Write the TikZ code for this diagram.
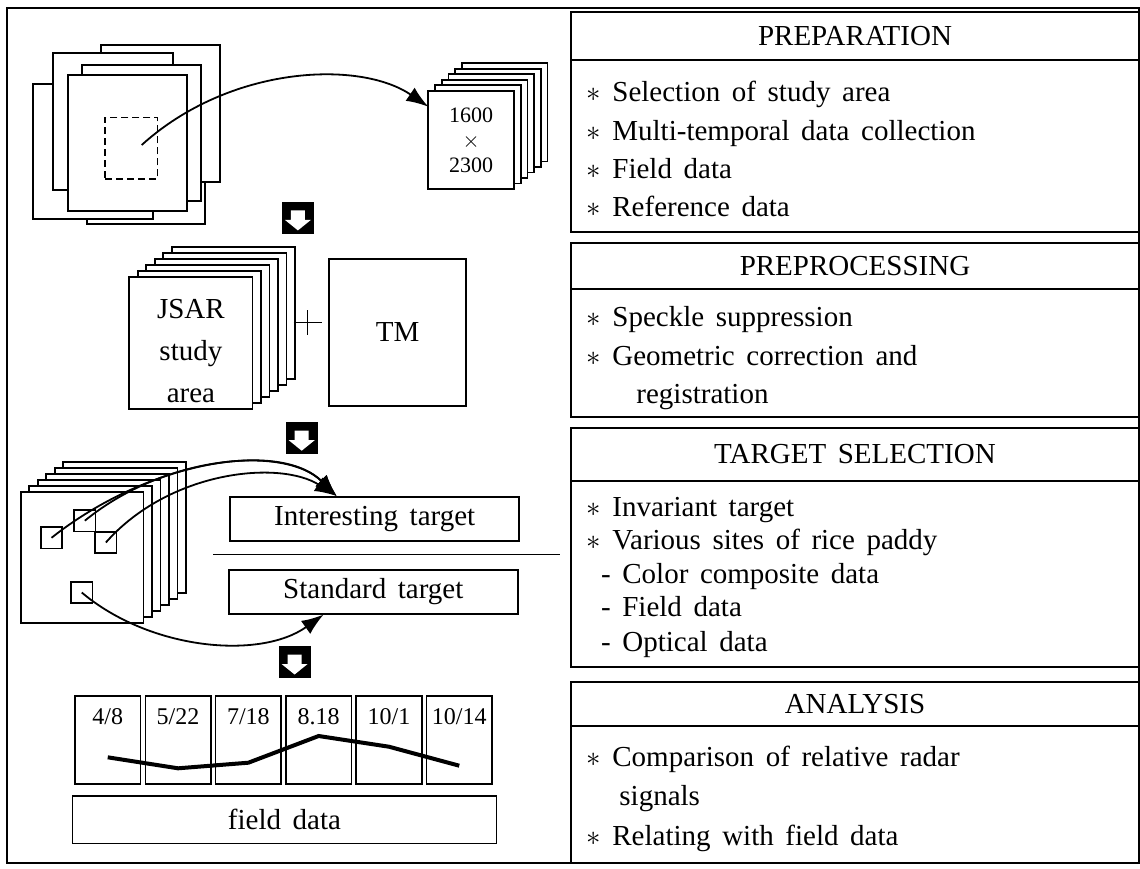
\documentclass[tikz,border=0pt]{standalone}
\usepackage{fontspec}
\setmainfont{Liberation Serif}[WordSpace=1.6]
\usetikzlibrary{arrows.meta}

\begin{document}
\begin{tikzpicture}[x=0.5pt, y=-0.5pt, font=\fontsize{14.5}{17.4}\selectfont,
    page/.style={draw, fill=white, line width=0.9pt},
    sheet/.style={draw, fill=white, line width=0.9pt, inner sep=0pt, outer sep=0pt},
    panel/.style={draw, line width=1.1pt, minimum width=284pt, inner sep=0pt},
    item/.style={anchor=base west, inner sep=0pt},
    spot/.style={draw, line width=0.8pt, minimum size=10.75pt, inner sep=0pt},
    tgt/.style={draw, line width=0.9pt, minimum width=144.5pt, minimum height=22pt, inner sep=0pt},
    blk/.style={fill=black, minimum size=16pt, inner sep=0pt},
    link/.style={line width=0.9pt, -{Latex[length=11pt,width=8pt]}},
    datebox/.style={draw, line width=0.8pt, minimum width=32.75pt, minimum height=44.15pt, inner sep=0pt}]

\useasboundingbox (0,0) rectangle (1140,868);
\draw[line width=0.9pt] (7,8) rectangle (1139,863);

\draw[page] (86.7,95) rectangle (205,224);
\draw[page] (33.3,84.3) rectangle (152.7,219.3);
\draw[page] (101,45) rectangle (220,181.7);
\draw[page] (53.3,53.3) rectangle (172.7,190);
\draw[page] (81.7,65) rectangle (201,201);
\draw[page] (67.7,75) rectangle (186.7,210.7);
\node[draw, dash pattern=on 3.5pt off 2pt, line width=0.8pt, minimum width=26.15pt, minimum height=30.85pt, inner sep=0pt] (roi) at (131.2,148.2) {};

\foreach \i in {5,4,...,1}
    \node[sheet, minimum width=42.85pt, minimum height=49.15pt] (sub\i) at ({471.2+6.7*\i},{139.9-5.5*\i}) {};
\node[sheet, minimum width=42.85pt, minimum height=49.15pt, align=center, font=\fontsize{11}{12.5}\selectfont] (sub) at (471.2,139.9) {1600\\$\times$\\2300};

\draw[link] ([shift={(10.5,-3.2)}]roi.center) .. controls (230,65) and (360,60) .. (sub.west |- 0,106.7);

\foreach \n/\px/\py in {a1/297.9/217.9, a2/301.7/438.2, a3/294.6/662} {
    \node[blk] (\n) at (\px,\py) {};
    \fill[white, shift={(\n)}] (-7,-7.5) -- (7,-7.5) -- (7,2) -- (13,2) -- (0,12.5) -- (-13,2) -- (-7,2) -- cycle;
}

\foreach \i in {5,4,...,1}
    \node[sheet, minimum width=61.6pt, minimum height=65.75pt] (jsar\i) at ({190.9+8.5*\i},{343.05-6*\i}) {};
\node[sheet, minimum width=61.6pt, minimum height=65.75pt] (jsar) at (190.9,343.05) {};
\node[align=center, font=\fontsize{14.5}{20.85}\selectfont, yshift=-4pt] (jsartxt) at (jsar.center) {JSAR\\study\\area};

\node[sheet, minimum width=68.35pt, minimum height=73.65pt] (tm) at (397.65,332.35) {TM};
\coordinate (plus) at (307.5,322.5);
\draw[line width=0.9pt] ([xshift=-7pt]plus) -- ([xshift=7pt]plus) ([yshift=6.25pt]plus) -- ([yshift=-6.25pt]plus);

\foreach \i in {5,4,...,1}
    \node[sheet, minimum width=61.4pt, minimum height=65.2pt] (scene\i) at ({82.1+8.5*\i},{557.5-6*\i}) {};
\node[sheet, minimum width=61.4pt, minimum height=65.2pt] (scene) at (82.1,557.5) {};
\node[spot] (s1) at (51.5,537.8) {};
\node[spot] (s2) at (84.85,520.7) {};
\node[spot] (s3) at (105.85,542.5) {};
\node[spot] (s4) at (81.75,592.5) {};

\node[tgt] (itgt) at (374.65,519) {Interesting target};
\node[tgt] (stgt) at (373.3,591.65) {Standard target};
\draw[line width=0.9pt] (213.3,554.5) -- (560,554.5);

\coordinate (itip) at ([xshift=53.75pt]itgt.north west);
\coordinate (stip) at ([xshift=47.85pt]stgt.south west);
\draw[link] (s1.center) .. controls (150,460) and (280,440) .. (itip);
\draw[link] (s2.center) .. controls (165,455) and (285,445) .. (itip);
\draw[link] (s3.center) .. controls (170,470) and (280,460) .. (itip);
\draw[link] (s4.center) .. controls (150,650) and (260,660) .. (stip);

\foreach \i/\lab/\v in {1/4\slash 8/757.3, 2/5\slash 22/768.3, 3/7\slash 18/762.7, 4/8.18/736, 5/10\slash 1/746.7, 6/10\slash 14/765.7} {
    \node[datebox] (d\i) at ({107.75+70.3*(\i-1)},739.85) {};
    \node[anchor=base, inner sep=0pt, font=\fontsize{12}{14}\selectfont] (l\i) at ([yshift=-14.6pt]d\i.north) {\lab};
    \coordinate (p\i) at (d\i.center |- 0,\v);
}
\draw[line width=2pt] (p1) -- (p2) -- (p3) -- (p4) -- (p5) -- (p6);
\node[draw, line width=0.8pt, minimum width=211.95pt, minimum height=23.8pt, inner sep=0pt] (fd) at (284.45,819.5) {field data};

\node[panel, minimum height=24.15pt] (preph) at (855,35.85) {PREPARATION};
\node[panel, minimum height=85.85pt] (prepb) at (855,145.85) {};
\foreach \t [count=\i] in {Selection of study area, Multi-temporal data collection, Field data, Reference data}
    \node[item] (prep\i) at (586,{101.7+38.3*(\i-1)}) {$\ast$ \t};

\node[panel, minimum height=23pt] (preh) at (855,266.3) {PREPROCESSING};
\node[panel, minimum height=63.7pt] (preb) at (855,353) {};
\node[item] (pre1) at (586,326.7) {$\ast$ Speckle suppression};
\node[item] (pre2) at (586,365) {$\ast$ Geometric correction and};
\node[item] (pre3) at (636,403) {registration};

\node[panel, minimum height=26.2pt] (tsh) at (855,454.5) {TARGET SELECTION};
\node[panel, minimum height=93.3pt] (tsb) at (855,574) {};
\node[item] (ts1) at (586,516) {$\ast$ Invariant target};
\node[item] (ts2) at (586,549.3) {$\ast$ Various sites of rice paddy};
\node[item] (ts3) at (600.7,583.3) {- Color composite data};
\node[item] (ts4) at (600.7,616.7) {- Field data};
\node[item] (ts5) at (600.7,651) {- Optical data};

\node[panel, minimum height=22.15pt] (anh) at (855,703.85) {ANALYSIS};
\node[panel, minimum height=68.65pt] (anb) at (855,794.65) {};
\node[item] (an1) at (586,766.7) {$\ast$ Comparison of relative radar};
\node[item] (an2) at (619,805) {signals};
\node[item] (an3) at (586,845) {$\ast$ Relating with field data};
\end{tikzpicture}
\end{document}
